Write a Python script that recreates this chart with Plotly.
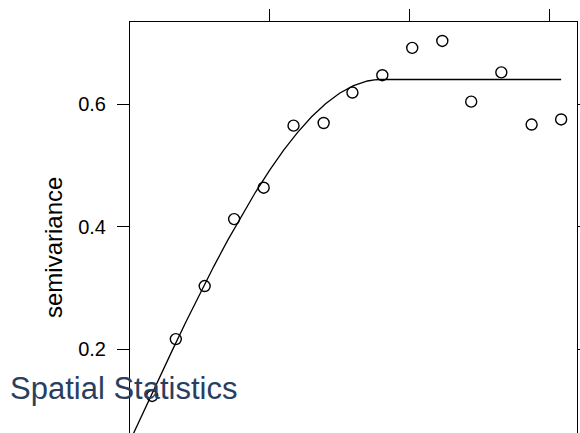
import plotly.graph_objects as go

# empirical semivariogram (distance, semivariance)
dist = [79.29, 163.97, 267.36, 372.74, 478.48, 585.34, 693.15, 796.18,
        903.15, 1010.20, 1117.87, 1221.32, 1329.16, 1437.57, 1543.21]
gamma = [0.1234, 0.2162, 0.3028, 0.4121, 0.4634, 0.5647, 0.5690, 0.6187,
         0.6470, 0.6916, 0.7030, 0.6039, 0.6517, 0.5665, 0.5748]

# fitted model line
model_dist = [0, 25, 50, 75, 100, 150, 200, 250, 300, 350, 400, 450, 500, 550,
              600, 650, 700, 750, 800, 850, 875, 897, 1543.21]
model_gamma = [0.0500, 0.0747, 0.0993, 0.1239, 0.1483, 0.1966, 0.2441, 0.2903,
               0.3350, 0.3778, 0.4185, 0.4567, 0.4922, 0.5246, 0.5537, 0.5791,
               0.6004, 0.6175, 0.6300, 0.6376, 0.6394, 0.6400, 0.6400]

y_ticks = [0.2, 0.4, 0.6]
y_tick_text = ["0.2", "0.4", "0.6"]
x_ticks = [500, 1000, 1500]

FONT = "Liberation Sans, Arial, Helvetica, sans-serif"

fig = go.Figure()
fig.add_trace(go.Scatter(
    x=model_dist, y=model_gamma, mode="lines",
    line=dict(color="black", width=1.3),
    hoverinfo="skip", showlegend=False))
fig.add_trace(go.Scatter(
    x=dist, y=gamma, mode="markers",
    marker=dict(symbol="circle-open", size=11, color="black",
                line=dict(width=1.4, color="black")),
    showlegend=False))

L, R, T = 130, 3, 22
W, H = 580, 433
plot_h = H - T

fig.update_layout(
    width=W, height=H,
    margin=dict(l=L, r=R, t=T, b=0, pad=0, autoexpand=False),
    paper_bgcolor="white", plot_bgcolor="white",
    font=dict(family=FONT, color="black"),
    xaxis=dict(range=[0, 1600], side="top", tickvals=x_ticks,
               showticklabels=False, ticks="outside", ticklen=12,
               tickcolor="black", tickwidth=1, showline=True,
               linecolor="black", linewidth=1, mirror=False,
               showgrid=False, zeroline=False, automargin=False),
    yaxis=dict(range=[0.0629, 0.7339], tickvals=y_ticks, ticktext=y_tick_text,
               ticks="outside", ticklen=12, tickcolor="black", tickwidth=1,
               showline=True, linecolor="black", linewidth=1, mirror="ticks",
               showgrid=False, zeroline=False, ticklabelstandoff=7,
               automargin=False,
               tickfont=dict(family=FONT, size=20, color="black")),
    annotations=[
        dict(text="semivariance", textangle=-90, xref="paper", yref="paper",
             x=(53.5 - L) / (W - L - R), y=(H - 247.5) / plot_h,
             xanchor="center", yanchor="middle", showarrow=False,
             font=dict(family=FONT, size=24, color="black")),
        dict(text="Spatial Statistics", xref="paper", yref="paper",
             x=(8 - L) / (W - L - R), y=(H - 388) / plot_h,
             xanchor="left", yanchor="middle", showarrow=False,
             font=dict(family=FONT, size=31, color="#2a3f5f")),
    ],
)

fig.write_html("out.html")
